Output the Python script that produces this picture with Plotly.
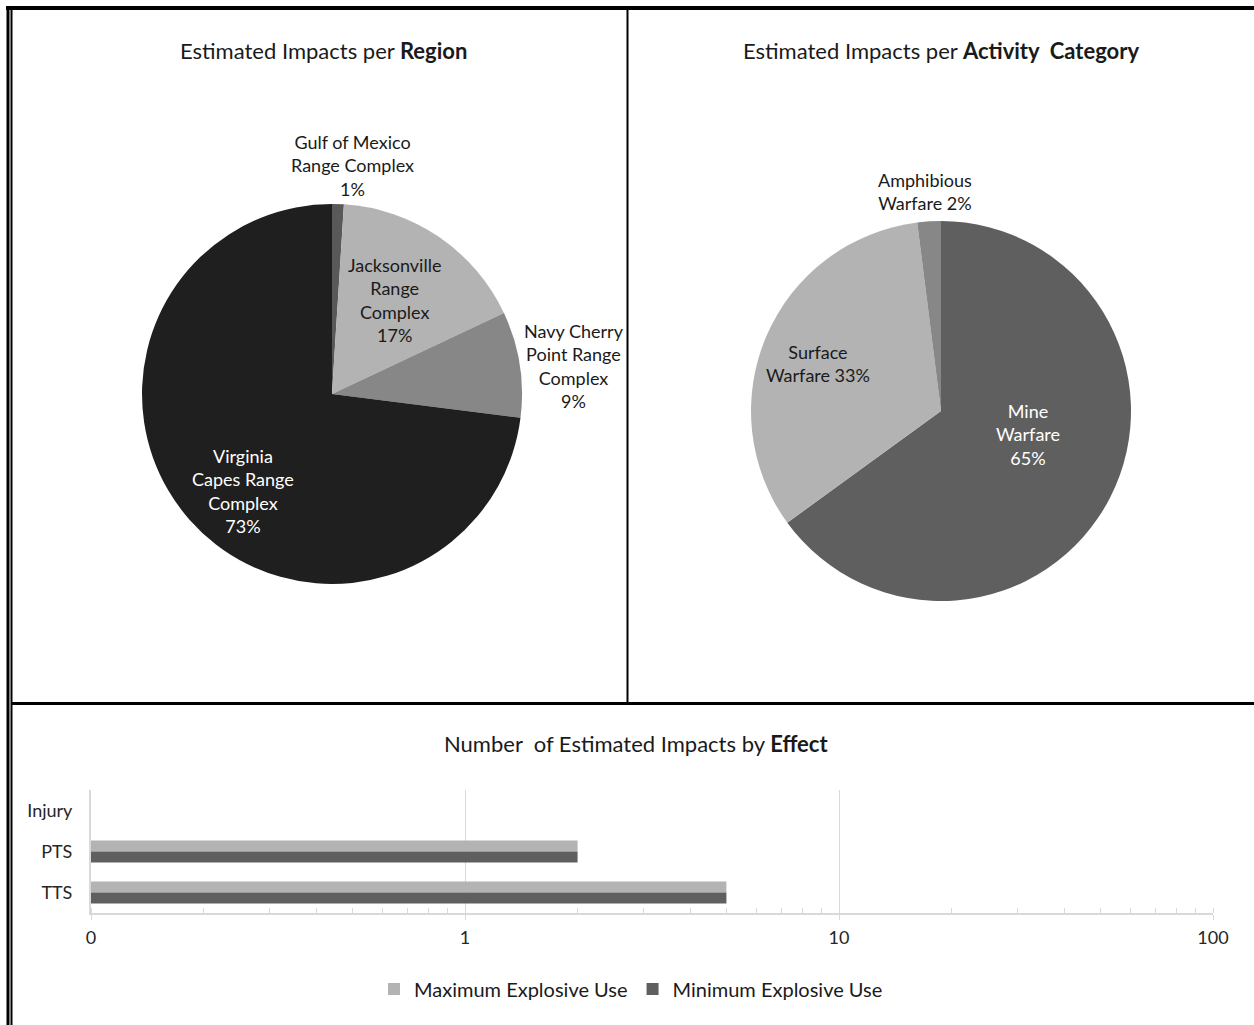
import plotly.graph_objects as go

W, H = 1254, 1025

# ---------------- data ----------------
region_labels = ["Gulf of Mexico<br>Range Complex", "Jacksonville<br>Range<br>Complex",
                 "Navy Cherry<br>Point Range<br>Complex", "Virginia<br>Capes Range<br>Complex"]
region_values = [1, 17, 9, 73]
region_colors = ["#595959", "#b3b3b3", "#878787", "#1f1f1f"]

activity_labels = ["Mine<br>Warfare", "Surface<br>Warfare", "Amphibious<br>Warfare"]
activity_values = [65, 33, 2]
activity_colors = ["#5f5f5f", "#b3b3b3", "#878787"]

effects = ["Injury", "PTS", "TTS"]
max_use = [0, 2, 5]
min_use = [0, 2, 5]
x_tickvals = [0.1, 1, 10, 100]
x_ticktext = ["0", "1", "10", "100"]

FONT = "Lato"
TXT = "#1a1a1a"

def px(x):
    return x / W

def py(y):
    return 1 - y / H

fig = go.Figure()

fig.add_trace(go.Pie(
    labels=[l.replace("<br>", " ") for l in region_labels], values=region_values,
    marker=dict(colors=region_colors, line=dict(width=0)),
    sort=False, direction="clockwise", rotation=0, textinfo="none",
    hoverinfo="label+percent", showlegend=False, automargin=False,
    domain=dict(x=[px(142), px(522)], y=[py(584), py(204)]),
))
fig.add_trace(go.Pie(
    labels=[l.replace("<br>", " ") for l in activity_labels], values=activity_values,
    marker=dict(colors=activity_colors, line=dict(width=0)),
    sort=False, direction="clockwise", rotation=0, textinfo="none",
    hoverinfo="label+percent", showlegend=False, automargin=False,
    domain=dict(x=[px(751), px(1131)], y=[py(601), py(221)]),
))

fig.add_trace(go.Bar(
    y=effects, x=max_use, orientation="h", name="Maximum Explosive Use",
    marker=dict(color="#b3b3b3", line=dict(width=0)), xaxis="x", yaxis="y",
))
fig.add_trace(go.Bar(
    y=effects, x=min_use, orientation="h", name="Minimum Explosive Use",
    marker=dict(color="#5f5f5f", line=dict(width=0)), xaxis="x", yaxis="y",
))

annotations = []

def lab(text, x, y, color=TXT, size=18):
    annotations.append(dict(text=text, x=px(x), y=py(y), xref="paper", yref="paper",
                            showarrow=False, align="center",
                            font=dict(family=FONT, size=size, color=color),
                            xanchor="center", yanchor="middle"))

rv, av = region_values, activity_values
rt, at = sum(rv), sum(av)
lab(f"{region_labels[0]}<br>{round(100*rv[0]/rt)}%", 352, 165)
lab(f"{region_labels[1]}<br>{round(100*rv[1]/rt)}%", 394, 300)
lab(f"{region_labels[2]}<br>{round(100*rv[2]/rt)}%", 574, 366)
lab(f"{region_labels[3]}<br>{round(100*rv[3]/rt)}%", 243, 491, color="#ffffff")

lab(f"{activity_labels[0]}<br>{round(100*av[0]/at)}%", 1028, 435, color="#ffffff")
lab(f"{activity_labels[1]} {round(100*av[1]/at)}%", 818, 363)
lab(f"{activity_labels[2]} {round(100*av[2]/at)}%", 925, 192)

# titles
lab("Estimated Impacts per <b>Region</b>", 323, 50, size=22)
lab("Estimated Impacts per <b>Activity  Category</b>", 941, 50, size=22)
lab("Number  of Estimated Impacts by <b>Effect</b>", 636, 743, size=22)

shapes = []

def line(x0, y0, x1, y1, w):
    shapes.append(dict(type="line", xref="paper", yref="paper",
                       x0=px(x0), y0=py(y0), x1=px(x1), y1=py(y1),
                       line=dict(color="#000000", width=w)))

line(6, 8, W, 8, 4)
line(8, 6, 8, H, 3)
line(11.5, 10, 11.5, H, 2)
line(627.5, 10, 627.5, 702, 2)
line(12, 703.5, W, 703.5, 3)

fig.update_layout(
    width=W, height=H, autosize=False,
    margin=dict(l=0, r=0, t=0, b=0, pad=0, autoexpand=False),
    paper_bgcolor="white", plot_bgcolor="white",
    font=dict(family=FONT, size=18, color=TXT),
    barmode="group", bargap=0.46, bargroupgap=0,
    xaxis=dict(
        type="log", range=[-1, 2], domain=[px(91), px(1213)], automargin=False,
        tickvals=x_tickvals, ticktext=x_ticktext,
        showgrid=True, gridcolor="#d9d9d9", gridwidth=1,
        showline=True, linecolor="#d9d9d9", linewidth=2,
        ticks="outside", ticklen=5, tickcolor="#d9d9d9",
        ticklabelstandoff=2,
        tickfont=dict(family=FONT, size=18, color="#262626"),
        minor=dict(ticks="inside", ticklen=5, tickcolor="#d9d9d9", dtick="D1", showgrid=False),
        zeroline=False, fixedrange=True,
    ),
    yaxis=dict(
        domain=[py(913), py(790)], autorange="reversed", automargin=False,
        categoryorder="array", categoryarray=effects,
        showline=True, linecolor="#d9d9d9", linewidth=2,
        showgrid=False, ticks="", ticklabelstandoff=13,
        tickfont=dict(family=FONT, size=18, color="#262626"),
        fixedrange=True,
    ),
    legend=dict(
        orientation="h", x=px(631), xanchor="center", y=py(989), yanchor="middle",
        font=dict(family=FONT, size=20, color="#1a1a1a"), itemwidth=30,
        traceorder="normal", bgcolor="rgba(0,0,0,0)",
    ),
    annotations=annotations, shapes=shapes,
)

fig.write_html("out.html")
